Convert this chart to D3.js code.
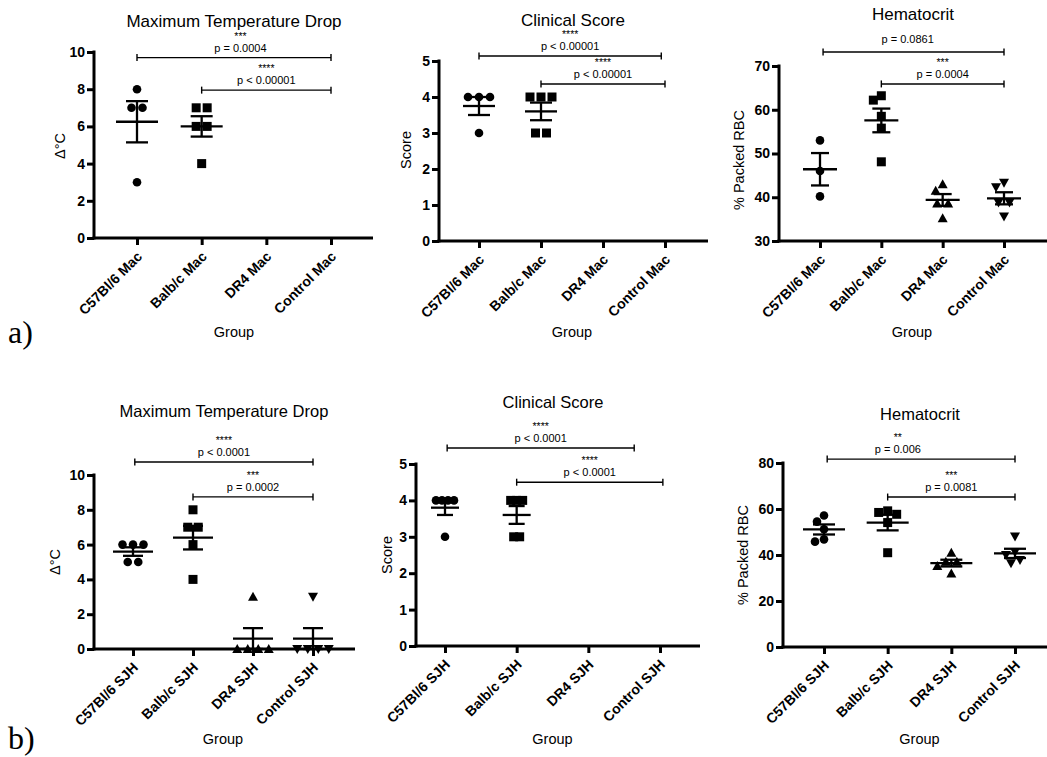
<!DOCTYPE html>
<html>
<head>
<meta charset="utf-8">
<script src="https://cdn.jsdelivr.net/npm/d3@7"></script>
<style>
  html, body { margin: 0; padding: 0; background: #fff; }
  svg { display: block; }
</style>
</head>
<body>
<svg id="fig" width="1047" height="757"></svg>
<script>
// ---- groups ----
const groupsMac = ["C57Bl/6 Mac", "Balb/c Mac", "DR4 Mac", "Control Mac"];
const groupsSJH = ["C57Bl/6 SJH", "Balb/c SJH", "DR4 SJH", "Control SJH"];

// ---- individual animal values, one array per group ----
const tempDropMac = [[8, 7, 7, 3], [7, 7, 6, 6, 4], [], []];
const scoreMac    = [[4, 4, 4, 3], [4, 4, 4, 3, 3], [], []];
const hctMac      = [[53, 46, 40.2], [63.2, 62.2, 58.5, 55.8, 48.1],
                     [43.0, 41.5, 38.6, 38.6, 35.2], [43.3, 42.3, 38.8, 38.8, 35.6]];

const tempDropSJH = [[6, 6, 6, 5, 5], [8, 7, 7, 6, 4], [3, 0, 0, 0, 0], [3, 0, 0, 0, 0]];
const scoreSJH    = [[4, 4, 4, 4, 3], [4, 4, 4, 3, 3], [], []];
const hctSJH      = [[57.2, 54.5, 51.2, 46.8, 45.8], [59.2, 58.5, 57.7, 54.1, 41.0],
                     [41.0, 37.1, 37.1, 35.2, 32.0], [48.0, 41.3, 40.0, 37.8, 36.4]];

// ---- y-axis tick values ----
const tempTicks   = [0, 2, 4, 6, 8, 10];
const scoreTicks  = [0, 1, 2, 3, 4, 5];
const hctMacTicks = [30, 40, 50, 60, 70];
const hctSJHTicks = [0, 20, 40, 60, 80];

// ---- significance brackets (group index span, height in axis units) ----
const sigTempMac  = [{ from: 0, to: 3, y: 9.7,  stars: "***",  p: "p = 0.0004", at: 1.6 },
                     { from: 1, to: 3, y: 7.95, stars: "****", p: "p < 0.00001" }];
const sigScoreMac = [{ from: 0, to: 2.94, y: 5.14, stars: "****", p: "p < 0.00001" },
                     { from: 1, to: 3,    y: 4.36, stars: "****", p: "p < 0.00001" }];
const sigHctMac   = [{ from: 0.05, to: 3, y: 73.2, stars: "",    p: "p = 0.0861", at: 1.43, lift: 3 },
                     { from: 1,    to: 3, y: 65.9, stars: "***", p: "p = 0.0004" }];
const sigTempSJH  = [{ from: 0.03, to: 3, y: 10.75, stars: "****", p: "p < 0.0001" },
                     { from: 1,    to: 3, y: 8.74,  stars: "***",  p: "p = 0.0002" }];
const sigScoreSJH = [{ from: 0.03, to: 2.64, y: 5.44, stars: "****", p: "p < 0.0001" },
                     { from: 1,    to: 3.04, y: 4.5,  stars: "****", p: "p < 0.0001" }];
const sigHctSJH   = [{ from: 0.05, to: 3, y: 81.7, stars: "**",  p: "p = 0.006", at: 1.16 },
                     { from: 1,    to: 3, y: 65.2, stars: "***", p: "p = 0.0081" }];

const panelTags = ["a)", "b)"];

const SANS = "'Liberation Sans', Arial, Helvetica, sans-serif";
const SERIF = "'Liberation Serif', 'Times New Roman', serif";

const specs = [
  { title: "Maximum Temperature Drop", yLabel: "Δ°C", groups: groupsMac, values: tempDropMac, domain: [0, 10], ticks: tempTicks, sig: sigTempMac },
  { title: "Clinical Score", yLabel: "Score", groups: groupsMac, values: scoreMac, domain: [0, 5], ticks: scoreTicks, sig: sigScoreMac },
  { title: "Hematocrit", yLabel: "% Packed RBC", groups: groupsMac, values: hctMac, domain: [30, 70], ticks: hctMacTicks, sig: sigHctMac },
  { title: "Maximum Temperature Drop", yLabel: "Δ°C", groups: groupsSJH, values: tempDropSJH, domain: [0, 10], ticks: tempTicks, sig: sigTempSJH },
  { title: "Clinical Score", yLabel: "Score", groups: groupsSJH, values: scoreSJH, domain: [0, 5], ticks: scoreTicks, sig: sigScoreSJH },
  { title: "Hematocrit", yLabel: "% Packed RBC", groups: groupsSJH, values: hctSJH, domain: [0, 80], ticks: hctSJHTicks, sig: sigHctSJH }
];

// page geometry of each panel
const layouts = [
  { ax: 94,  ay: 238, top: 52,  right: 373,  c0: 137, c3: 331,  tx: 234, ty: 27,  ts: 17,   lx: 60,  ly: 146, gy: 337, meanW: 21, capW: 11, tie: 11 },
  { ax: 439, ay: 241, top: 61,  right: 708,  c0: 479, c3: 665,  tx: 573, ty: 26,  ts: 17,   lx: 406, ly: 150, gy: 337, meanW: 16, capW: 11, tie: 11 },
  { ax: 779, ay: 241, top: 66,  right: 1047, c0: 820, c3: 1004, tx: 913, ty: 20,  ts: 17,   lx: 739, ly: 160, gy: 337, meanW: 17, capW: 9,  tie: 11 },
  { ax: 94,  ay: 649, top: 475, right: 355,  c0: 133, c3: 313,  tx: 224, ty: 417, ts: 16.5, lx: 55,  ly: 562, gy: 744, meanW: 20, capW: 10, tie: 10.5 },
  { ax: 416, ay: 646, top: 464, right: 700,  c0: 445, c3: 660,  tx: 553, ty: 408, ts: 16.5, lx: 387, ly: 555, gy: 744, meanW: 14, capW: 8,  tie: 6 },
  { ax: 783, ay: 647, top: 463, right: 1047, c0: 824, c3: 1015, tx: 920, ty: 420, ts: 16.5, lx: 743, ly: 555, gy: 744, meanW: 21, capW: 11, tie: 11 }
];

const svg = d3.select("#fig");
svg.append("rect").attr("width", 1047).attr("height", 757).attr("fill", "#fff");

// marker shapes: circle, square, triangle up, triangle down
const markerPaths = [
  () => { const p = d3.path(); p.arc(0, 0, 4.3, 0, 2 * Math.PI); return p.toString(); },
  () => "M-4.5,-4.5H4.5V4.5H-4.5Z",
  () => "M0,-5L5,4L-5,4Z",
  () => "M0,5L5,-4L-5,-4Z"
];

// horizontal spreading of points that would overlap
function swarm(vals, y, tieGap, minDist) {
  const sorted = vals.slice().sort((a, b) => b - a);
  const rows = d3.groups(sorted, v => v);
  const placed = [];
  rows.forEach(([v, arr]) => {
    const n = arr.length, py = y(v);
    const base = arr.map((_, i) => (i - (n - 1) / 2) * tieGap);
    for (let k = 0; k < 80; k++) {
      const s = (k % 2 === 1 ? -1 : 1) * Math.ceil(k / 2);
      const xs = base.map(b => b + s);
      const hit = xs.some(xo => placed.some(p => Math.hypot(p.dx - xo, p.py - py) < minDist));
      if (!hit) { xs.forEach(xo => placed.push({ v, dx: xo, py })); break; }
    }
  });
  return placed;
}

function drawPanel(spec, lay) {
  const g = svg.append("g");
  const y = d3.scaleLinear().domain(spec.domain).range([lay.ay, lay.top]);
  const x = d3.scaleLinear().domain([0, 3]).range([lay.c0, lay.c3]);

  // title
  g.append("text").attr("x", lay.tx).attr("y", lay.ty).attr("text-anchor", "middle")
    .attr("font-family", SANS).attr("font-size", lay.ts).attr("fill", "#000").text(spec.title);

  // y axis
  const ya = g.append("g").attr("transform", `translate(${lay.ax},0)`)
    .call(d3.axisLeft(y).tickValues(spec.ticks).tickFormat(d3.format("d"))
      .tickSize(7).tickSizeOuter(0).tickPadding(2));
  ya.attr("font-family", SANS);
  ya.select(".domain").remove();
  ya.selectAll(".tick line").attr("stroke", "#000").attr("stroke-width", 3);
  ya.selectAll(".tick text").attr("font-size", 14).attr("font-weight", "bold").attr("fill", "#000");
  g.append("line").attr("x1", lay.ax).attr("x2", lay.ax).attr("y1", lay.top - 1.5).attr("y2", lay.ay + 1.5)
    .attr("stroke", "#000").attr("stroke-width", 3);

  // x axis
  const xa = g.append("g").attr("transform", `translate(0,${lay.ay})`)
    .call(d3.axisBottom(x).tickValues([0, 1, 2, 3]).tickFormat(i => spec.groups[i]).tickSize(7).tickSizeOuter(0));
  xa.attr("font-family", SANS);
  xa.select(".domain").remove();
  xa.selectAll(".tick line").attr("stroke", "#000").attr("stroke-width", 3);
  xa.selectAll(".tick text")
    .attr("x", 0).attr("y", 0).attr("dy", "0.35em")
    .attr("text-anchor", "end")
    .attr("transform", "translate(2,16) rotate(-45)")
    .attr("font-size", 14).attr("font-weight", "bold").attr("fill", "#000");
  g.append("line").attr("x1", lay.ax - 1.5).attr("x2", lay.right).attr("y1", lay.ay).attr("y2", lay.ay)
    .attr("stroke", "#000").attr("stroke-width", 3);

  // axis titles
  g.append("text").attr("transform", `translate(${lay.lx},${lay.ly}) rotate(-90)`)
    .attr("text-anchor", "middle").attr("dy", "0.35em")
    .attr("font-family", SANS).attr("font-size", 14.5).attr("fill", "#000").text(spec.yLabel);
  g.append("text").attr("x", (lay.c0 + lay.c3) / 2).attr("y", lay.gy).attr("text-anchor", "middle")
    .attr("font-family", SANS).attr("font-size", 14.5).attr("fill", "#000").text("Group");

  // points and mean ± SEM
  spec.values.forEach((vals, gi) => {
    if (!vals.length) return;
    const cx = x(gi);
    const pts = swarm(vals, y, lay.tie, 9);
    g.append("g").selectAll("path").data(pts).join("path")
      .attr("d", markerPaths[gi]())
      .attr("transform", d => `translate(${cx + d.dx},${y(d.v)})`)
      .attr("fill", "#000");

    const m = d3.mean(vals);
    const sem = d3.deviation(vals) / Math.sqrt(vals.length);
    const eg = g.append("g").attr("stroke", "#000").attr("stroke-width", 2.3).attr("fill", "none");
    eg.append("line").attr("x1", cx - lay.meanW).attr("x2", cx + lay.meanW).attr("y1", y(m)).attr("y2", y(m));
    eg.append("line").attr("x1", cx).attr("x2", cx).attr("y1", y(m + sem)).attr("y2", y(m - sem));
    [m + sem, m - sem].forEach(v => {
      eg.append("line").attr("x1", cx - lay.capW).attr("x2", cx + lay.capW).attr("y1", y(v)).attr("y2", y(v));
    });
  });

  // significance brackets
  spec.sig.forEach(s => {
    const yy = y(s.y), x1 = x(s.from), x2 = x(s.to);
    const bg = g.append("g").attr("stroke", "#000").attr("stroke-width", 1.4);
    bg.append("line").attr("x1", x1).attr("x2", x2).attr("y1", yy).attr("y2", yy);
    [x1, x2].forEach(xx => bg.append("line").attr("x1", xx).attr("x2", xx).attr("y1", yy - 3.5).attr("y2", yy + 3.5));
    const lxp = x(s.at !== undefined ? s.at : (s.from + s.to) / 2);
    const lift = s.lift || 0;
    g.append("text").attr("x", lxp).attr("y", yy - 6 - lift).attr("text-anchor", "middle")
      .attr("font-family", SANS).attr("font-size", 11).attr("fill", "#000").text(s.p);
    if (s.stars) {
      g.append("text").attr("x", lxp).attr("y", yy - 18).attr("text-anchor", "middle")
        .attr("font-family", SANS).attr("font-size", 10.5).attr("fill", "#000").text(s.stars);
    }
  });
}

specs.forEach((s, i) => drawPanel(s, layouts[i]));

// row tags
svg.append("text").attr("x", 8).attr("y", 343).attr("font-family", SERIF).attr("font-size", 32)
  .attr("fill", "#000").text(panelTags[0]);
svg.append("text").attr("x", 8).attr("y", 749).attr("font-family", SERIF).attr("font-size", 32)
  .attr("fill", "#000").text(panelTags[1]);
</script>
</body>
</html>
